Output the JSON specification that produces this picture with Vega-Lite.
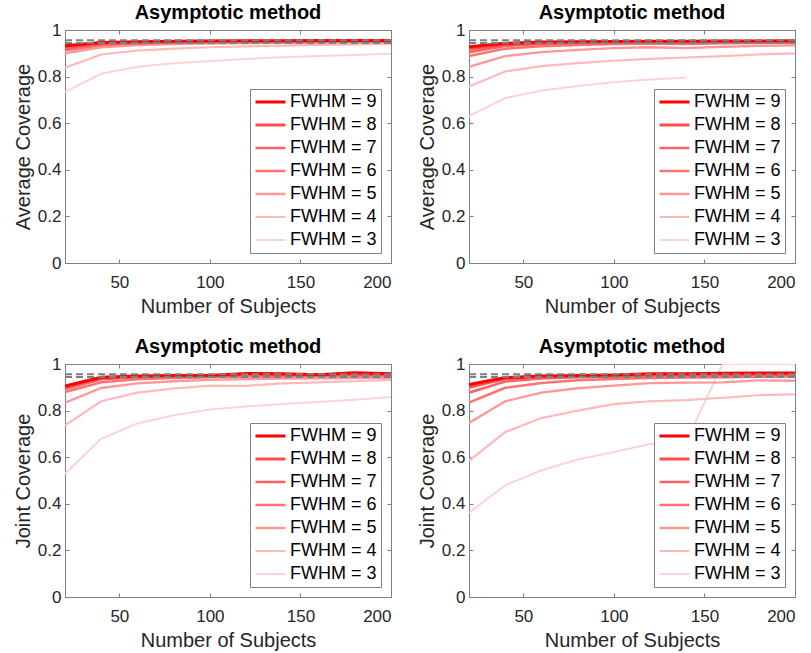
{
"$schema": "https://vega.github.io/schema/vega-lite/v6.json",
"background": "white",
"padding": {"left": 12, "top": 2, "right": 4, "bottom": 2},
"spacing": 19,
"resolve": {"scale": {"color": "independent", "strokeWidth": "independent"}, "legend": {"color": "independent", "strokeWidth": "independent"}},
"config": {
 "font": "Liberation Sans",
 "view": {"stroke": "#808080", "strokeWidth": 1},
 "axis": {"domainColor": "#808080", "tickColor": "#808080", "tickSize": -4, "labelFontSize": 17, "labelColor": "#262626", "labelFont": "Liberation Sans", "titleFont": "Liberation Sans", "titleFontSize": 20, "titleFontWeight": "normal", "titleColor": "#262626", "grid": false, "labelPadding": 8},
 "axisBottom": {"labelPadding": 15, "titlePadding": 6},
 "title": {"fontSize": 20, "fontWeight": "bold", "color": "#000000", "font": "Liberation Sans", "offset": -2},
 "legend": {"title": null, "orient": "bottom-right", "offset": 10, "fillColor": "white", "strokeColor": "#808080", "padding": 4, "symbolType": "stroke", "symbolSize": 900, "clipHeight": 18, "labelFontSize": 18, "labelColor": "#000000", "labelFont": "Liberation Sans", "labelOffset": 3, "rowPadding": 5, "cornerRadius": 0, "symbolStrokeWidth": 2}
},
"datasets": {
 "ref": [{"y": 0.956}, {"y": 0.944}],
 "TL": [
  {"f":"FWHM = 3","n":20,"c":0.735},{"f":"FWHM = 3","n":40,"c":0.812},{"f":"FWHM = 3","n":60,"c":0.842},{"f":"FWHM = 3","n":80,"c":0.857},{"f":"FWHM = 3","n":100,"c":0.867},{"f":"FWHM = 3","n":120,"c":0.876},{"f":"FWHM = 3","n":140,"c":0.883},{"f":"FWHM = 3","n":160,"c":0.888},{"f":"FWHM = 3","n":180,"c":0.893},{"f":"FWHM = 3","n":200,"c":0.898},
  {"f":"FWHM = 4","n":20,"c":0.838},{"f":"FWHM = 4","n":40,"c":0.895},{"f":"FWHM = 4","n":60,"c":0.912},{"f":"FWHM = 4","n":80,"c":0.920},{"f":"FWHM = 4","n":100,"c":0.926},{"f":"FWHM = 4","n":120,"c":0.930},{"f":"FWHM = 4","n":140,"c":0.933},{"f":"FWHM = 4","n":160,"c":0.936},{"f":"FWHM = 4","n":180,"c":0.938},{"f":"FWHM = 4","n":200,"c":0.940},
  {"f":"FWHM = 5","n":20,"c":0.900},{"f":"FWHM = 5","n":40,"c":0.926},{"f":"FWHM = 5","n":60,"c":0.935},{"f":"FWHM = 5","n":80,"c":0.940},{"f":"FWHM = 5","n":100,"c":0.942},{"f":"FWHM = 5","n":120,"c":0.944},{"f":"FWHM = 5","n":140,"c":0.945},{"f":"FWHM = 5","n":160,"c":0.946},{"f":"FWHM = 5","n":180,"c":0.947},{"f":"FWHM = 5","n":200,"c":0.948},
  {"f":"FWHM = 6","n":20,"c":0.913},{"f":"FWHM = 6","n":40,"c":0.935},{"f":"FWHM = 6","n":60,"c":0.942},{"f":"FWHM = 6","n":80,"c":0.945},{"f":"FWHM = 6","n":100,"c":0.947},{"f":"FWHM = 6","n":120,"c":0.948},{"f":"FWHM = 6","n":140,"c":0.949},{"f":"FWHM = 6","n":160,"c":0.950},{"f":"FWHM = 6","n":180,"c":0.950},{"f":"FWHM = 6","n":200,"c":0.951},
  {"f":"FWHM = 7","n":20,"c":0.920},{"f":"FWHM = 7","n":40,"c":0.940},{"f":"FWHM = 7","n":60,"c":0.946},{"f":"FWHM = 7","n":80,"c":0.948},{"f":"FWHM = 7","n":100,"c":0.950},{"f":"FWHM = 7","n":120,"c":0.951},{"f":"FWHM = 7","n":140,"c":0.951},{"f":"FWHM = 7","n":160,"c":0.952},{"f":"FWHM = 7","n":180,"c":0.952},{"f":"FWHM = 7","n":200,"c":0.953},
  {"f":"FWHM = 8","n":20,"c":0.926},{"f":"FWHM = 8","n":40,"c":0.943},{"f":"FWHM = 8","n":60,"c":0.948},{"f":"FWHM = 8","n":80,"c":0.950},{"f":"FWHM = 8","n":100,"c":0.952},{"f":"FWHM = 8","n":120,"c":0.952},{"f":"FWHM = 8","n":140,"c":0.953},{"f":"FWHM = 8","n":160,"c":0.953},{"f":"FWHM = 8","n":180,"c":0.954},{"f":"FWHM = 8","n":200,"c":0.954},
  {"f":"FWHM = 9","n":20,"c":0.932},{"f":"FWHM = 9","n":40,"c":0.946},{"f":"FWHM = 9","n":60,"c":0.950},{"f":"FWHM = 9","n":80,"c":0.952},{"f":"FWHM = 9","n":100,"c":0.953},{"f":"FWHM = 9","n":120,"c":0.954},{"f":"FWHM = 9","n":140,"c":0.954},{"f":"FWHM = 9","n":160,"c":0.955},{"f":"FWHM = 9","n":180,"c":0.955},{"f":"FWHM = 9","n":200,"c":0.955}
 ],
 "TR": [
  {"f":"FWHM = 3","n":20,"c":0.630},{"f":"FWHM = 3","n":40,"c":0.708},{"f":"FWHM = 3","n":60,"c":0.740},{"f":"FWHM = 3","n":80,"c":0.760},{"f":"FWHM = 3","n":100,"c":0.776},{"f":"FWHM = 3","n":120,"c":0.788},{"f":"FWHM = 3","n":140,"c":0.796},
  {"f":"FWHM = 4","n":20,"c":0.758},{"f":"FWHM = 4","n":40,"c":0.822},{"f":"FWHM = 4","n":60,"c":0.845},{"f":"FWHM = 4","n":80,"c":0.858},{"f":"FWHM = 4","n":100,"c":0.868},{"f":"FWHM = 4","n":120,"c":0.876},{"f":"FWHM = 4","n":140,"c":0.882},{"f":"FWHM = 4","n":160,"c":0.888},{"f":"FWHM = 4","n":180,"c":0.895},{"f":"FWHM = 4","n":200,"c":0.900},
  {"f":"FWHM = 5","n":20,"c":0.842},{"f":"FWHM = 5","n":40,"c":0.888},{"f":"FWHM = 5","n":60,"c":0.905},{"f":"FWHM = 5","n":80,"c":0.915},{"f":"FWHM = 5","n":100,"c":0.922},{"f":"FWHM = 5","n":120,"c":0.926},{"f":"FWHM = 5","n":140,"c":0.922},{"f":"FWHM = 5","n":160,"c":0.928},{"f":"FWHM = 5","n":180,"c":0.932},{"f":"FWHM = 5","n":200,"c":0.934},
  {"f":"FWHM = 6","n":20,"c":0.888},{"f":"FWHM = 6","n":40,"c":0.920},{"f":"FWHM = 6","n":60,"c":0.930},{"f":"FWHM = 6","n":80,"c":0.936},{"f":"FWHM = 6","n":100,"c":0.940},{"f":"FWHM = 6","n":120,"c":0.942},{"f":"FWHM = 6","n":140,"c":0.940},{"f":"FWHM = 6","n":160,"c":0.943},{"f":"FWHM = 6","n":180,"c":0.944},{"f":"FWHM = 6","n":200,"c":0.945},
  {"f":"FWHM = 7","n":20,"c":0.905},{"f":"FWHM = 7","n":40,"c":0.932},{"f":"FWHM = 7","n":60,"c":0.940},{"f":"FWHM = 7","n":80,"c":0.944},{"f":"FWHM = 7","n":100,"c":0.946},{"f":"FWHM = 7","n":120,"c":0.947},{"f":"FWHM = 7","n":140,"c":0.946},{"f":"FWHM = 7","n":160,"c":0.948},{"f":"FWHM = 7","n":180,"c":0.948},{"f":"FWHM = 7","n":200,"c":0.949},
  {"f":"FWHM = 8","n":20,"c":0.918},{"f":"FWHM = 8","n":40,"c":0.938},{"f":"FWHM = 8","n":60,"c":0.945},{"f":"FWHM = 8","n":80,"c":0.948},{"f":"FWHM = 8","n":100,"c":0.950},{"f":"FWHM = 8","n":120,"c":0.950},{"f":"FWHM = 8","n":140,"c":0.950},{"f":"FWHM = 8","n":160,"c":0.951},{"f":"FWHM = 8","n":180,"c":0.951},{"f":"FWHM = 8","n":200,"c":0.952},
  {"f":"FWHM = 9","n":20,"c":0.928},{"f":"FWHM = 9","n":40,"c":0.943},{"f":"FWHM = 9","n":60,"c":0.948},{"f":"FWHM = 9","n":80,"c":0.950},{"f":"FWHM = 9","n":100,"c":0.951},{"f":"FWHM = 9","n":120,"c":0.952},{"f":"FWHM = 9","n":140,"c":0.952},{"f":"FWHM = 9","n":160,"c":0.953},{"f":"FWHM = 9","n":180,"c":0.953},{"f":"FWHM = 9","n":200,"c":0.954}
 ],
 "BL": [
  {"f":"FWHM = 3","n":20,"c":0.529},{"f":"FWHM = 3","n":40,"c":0.679},{"f":"FWHM = 3","n":60,"c":0.745},{"f":"FWHM = 3","n":80,"c":0.780},{"f":"FWHM = 3","n":100,"c":0.805},{"f":"FWHM = 3","n":120,"c":0.818},{"f":"FWHM = 3","n":140,"c":0.828},{"f":"FWHM = 3","n":160,"c":0.837},{"f":"FWHM = 3","n":180,"c":0.847},{"f":"FWHM = 3","n":200,"c":0.858},
  {"f":"FWHM = 4","n":20,"c":0.737},{"f":"FWHM = 4","n":40,"c":0.840},{"f":"FWHM = 4","n":60,"c":0.877},{"f":"FWHM = 4","n":80,"c":0.895},{"f":"FWHM = 4","n":100,"c":0.907},{"f":"FWHM = 4","n":120,"c":0.906},{"f":"FWHM = 4","n":140,"c":0.917},{"f":"FWHM = 4","n":160,"c":0.921},{"f":"FWHM = 4","n":180,"c":0.926},{"f":"FWHM = 4","n":200,"c":0.932},
  {"f":"FWHM = 5","n":20,"c":0.834},{"f":"FWHM = 5","n":40,"c":0.897},{"f":"FWHM = 5","n":60,"c":0.917},{"f":"FWHM = 5","n":80,"c":0.926},{"f":"FWHM = 5","n":100,"c":0.932},{"f":"FWHM = 5","n":120,"c":0.935},{"f":"FWHM = 5","n":140,"c":0.937},{"f":"FWHM = 5","n":160,"c":0.938},{"f":"FWHM = 5","n":180,"c":0.940},{"f":"FWHM = 5","n":200,"c":0.941},
  {"f":"FWHM = 6","n":20,"c":0.880},{"f":"FWHM = 6","n":40,"c":0.922},{"f":"FWHM = 6","n":60,"c":0.935},{"f":"FWHM = 6","n":80,"c":0.940},{"f":"FWHM = 6","n":100,"c":0.943},{"f":"FWHM = 6","n":120,"c":0.946},{"f":"FWHM = 6","n":140,"c":0.946},{"f":"FWHM = 6","n":160,"c":0.948},{"f":"FWHM = 6","n":180,"c":0.949},{"f":"FWHM = 6","n":200,"c":0.950},
  {"f":"FWHM = 7","n":20,"c":0.893},{"f":"FWHM = 7","n":40,"c":0.935},{"f":"FWHM = 7","n":60,"c":0.943},{"f":"FWHM = 7","n":80,"c":0.947},{"f":"FWHM = 7","n":100,"c":0.948},{"f":"FWHM = 7","n":120,"c":0.953},{"f":"FWHM = 7","n":140,"c":0.951},{"f":"FWHM = 7","n":160,"c":0.952},{"f":"FWHM = 7","n":180,"c":0.955},{"f":"FWHM = 7","n":200,"c":0.954},
  {"f":"FWHM = 8","n":20,"c":0.900},{"f":"FWHM = 8","n":40,"c":0.940},{"f":"FWHM = 8","n":60,"c":0.946},{"f":"FWHM = 8","n":80,"c":0.949},{"f":"FWHM = 8","n":100,"c":0.950},{"f":"FWHM = 8","n":120,"c":0.956},{"f":"FWHM = 8","n":140,"c":0.955},{"f":"FWHM = 8","n":160,"c":0.953},{"f":"FWHM = 8","n":180,"c":0.958},{"f":"FWHM = 8","n":200,"c":0.956},
  {"f":"FWHM = 9","n":20,"c":0.905},{"f":"FWHM = 9","n":40,"c":0.943},{"f":"FWHM = 9","n":60,"c":0.949},{"f":"FWHM = 9","n":80,"c":0.951},{"f":"FWHM = 9","n":100,"c":0.951},{"f":"FWHM = 9","n":120,"c":0.959},{"f":"FWHM = 9","n":140,"c":0.958},{"f":"FWHM = 9","n":160,"c":0.954},{"f":"FWHM = 9","n":180,"c":0.962},{"f":"FWHM = 9","n":200,"c":0.958}
 ],
 "BR": [
  {"f":"FWHM = 3","n":20,"c":0.362},{"f":"FWHM = 3","n":40,"c":0.479},{"f":"FWHM = 3","n":60,"c":0.544},{"f":"FWHM = 3","n":80,"c":0.590},{"f":"FWHM = 3","n":100,"c":0.622},{"f":"FWHM = 3","n":120,"c":0.657},{"f":"FWHM = 3","n":140,"c":0.668},{"f":"FWHM = 3","n":160,"c":1.0},{"f":"FWHM = 3","n":180,"c":1.0},{"f":"FWHM = 3","n":200,"c":1.0},
  {"f":"FWHM = 4","n":20,"c":0.584},{"f":"FWHM = 4","n":40,"c":0.708},{"f":"FWHM = 4","n":60,"c":0.768},{"f":"FWHM = 4","n":80,"c":0.800},{"f":"FWHM = 4","n":100,"c":0.828},{"f":"FWHM = 4","n":120,"c":0.840},{"f":"FWHM = 4","n":140,"c":0.845},{"f":"FWHM = 4","n":160,"c":0.855},{"f":"FWHM = 4","n":180,"c":0.866},{"f":"FWHM = 4","n":200,"c":0.870},
  {"f":"FWHM = 5","n":20,"c":0.747},{"f":"FWHM = 5","n":40,"c":0.840},{"f":"FWHM = 5","n":60,"c":0.877},{"f":"FWHM = 5","n":80,"c":0.896},{"f":"FWHM = 5","n":100,"c":0.907},{"f":"FWHM = 5","n":120,"c":0.918},{"f":"FWHM = 5","n":140,"c":0.920},{"f":"FWHM = 5","n":160,"c":0.921},{"f":"FWHM = 5","n":180,"c":0.930},{"f":"FWHM = 5","n":200,"c":0.928},
  {"f":"FWHM = 6","n":20,"c":0.834},{"f":"FWHM = 6","n":40,"c":0.898},{"f":"FWHM = 6","n":60,"c":0.918},{"f":"FWHM = 6","n":80,"c":0.930},{"f":"FWHM = 6","n":100,"c":0.936},{"f":"FWHM = 6","n":120,"c":0.940},{"f":"FWHM = 6","n":140,"c":0.942},{"f":"FWHM = 6","n":160,"c":0.943},{"f":"FWHM = 6","n":180,"c":0.945},{"f":"FWHM = 6","n":200,"c":0.946},
  {"f":"FWHM = 7","n":20,"c":0.877},{"f":"FWHM = 7","n":40,"c":0.925},{"f":"FWHM = 7","n":60,"c":0.938},{"f":"FWHM = 7","n":80,"c":0.943},{"f":"FWHM = 7","n":100,"c":0.946},{"f":"FWHM = 7","n":120,"c":0.950},{"f":"FWHM = 7","n":140,"c":0.950},{"f":"FWHM = 7","n":160,"c":0.951},{"f":"FWHM = 7","n":180,"c":0.952},{"f":"FWHM = 7","n":200,"c":0.953},
  {"f":"FWHM = 8","n":20,"c":0.900},{"f":"FWHM = 8","n":40,"c":0.937},{"f":"FWHM = 8","n":60,"c":0.945},{"f":"FWHM = 8","n":80,"c":0.948},{"f":"FWHM = 8","n":100,"c":0.950},{"f":"FWHM = 8","n":120,"c":0.955},{"f":"FWHM = 8","n":140,"c":0.955},{"f":"FWHM = 8","n":160,"c":0.956},{"f":"FWHM = 8","n":180,"c":0.957},{"f":"FWHM = 8","n":200,"c":0.958},
  {"f":"FWHM = 9","n":20,"c":0.912},{"f":"FWHM = 9","n":40,"c":0.942},{"f":"FWHM = 9","n":60,"c":0.948},{"f":"FWHM = 9","n":80,"c":0.951},{"f":"FWHM = 9","n":100,"c":0.953},{"f":"FWHM = 9","n":120,"c":0.958},{"f":"FWHM = 9","n":140,"c":0.958},{"f":"FWHM = 9","n":160,"c":0.960},{"f":"FWHM = 9","n":180,"c":0.961},{"f":"FWHM = 9","n":200,"c":0.961}
 ]
},
"vconcat": [
 {"spacing": 23, "resolve": {"scale": {"color": "independent", "strokeWidth": "independent"}, "legend": {"color": "independent", "strokeWidth": "independent"}}, "hconcat": [
  {"width": 326, "height": 233, "title": "Asymptotic method",
   "layer": [
    {"data": {"name": "TL"}, "mark": {"type": "line", "clip": true},
     "encoding": {
      "x": {"field": "n", "type": "quantitative", "scale": {"domain": [20, 200], "nice": false, "zero": false}, "axis": {"values": [50, 100, 150, 200], "title": "Number of Subjects"}},
      "y": {"field": "c", "type": "quantitative", "scale": {"domain": [0, 1], "nice": false}, "axis": {"values": [0, 0.2, 0.4, 0.6, 0.8, 1], "format": "~g", "title": "Average Coverage"}},
      "color": {"field": "f", "type": "nominal", "scale": {"domain": ["FWHM = 9","FWHM = 8","FWHM = 7","FWHM = 6","FWHM = 5","FWHM = 4","FWHM = 3"], "range": ["#ff0000","#ff4c4c","#ff6262","#ff7272","#ff9797","#ffb9b9","#ffd3d3"]}},
      "strokeWidth": {"field": "f", "type": "nominal", "scale": {"domain": ["FWHM = 9","FWHM = 8","FWHM = 7","FWHM = 6","FWHM = 5","FWHM = 4","FWHM = 3"], "range": [3, 2, 2, 2, 2, 2, 2]}}
     }},
    {"data": {"name": "ref"}, "mark": {"type": "rule", "strokeDash": [7, 4], "color": "#7f7f7f", "strokeWidth": 2},
     "encoding": {
      "x": {"datum": 20, "type": "quantitative", "axis": {"orient": "top", "labels": false, "title": null, "values": [50, 100, 150, 200]}},
      "x2": {"datum": 200},
      "y": {"field": "y", "type": "quantitative", "axis": {"orient": "right", "labels": false, "title": null, "values": [0, 0.2, 0.4, 0.6, 0.8, 1]}}
     }}
   ],
   "resolve": {"axis": {"x": "independent", "y": "independent"}}},
  {"width": 326, "height": 233, "title": "Asymptotic method",
   "layer": [
    {"data": {"name": "TR"}, "mark": {"type": "line", "clip": true},
     "encoding": {
      "x": {"field": "n", "type": "quantitative", "scale": {"domain": [20, 200], "nice": false, "zero": false}, "axis": {"values": [50, 100, 150, 200], "title": "Number of Subjects"}},
      "y": {"field": "c", "type": "quantitative", "scale": {"domain": [0, 1], "nice": false}, "axis": {"values": [0, 0.2, 0.4, 0.6, 0.8, 1], "format": "~g", "title": "Average Coverage"}},
      "color": {"field": "f", "type": "nominal", "scale": {"domain": ["FWHM = 9","FWHM = 8","FWHM = 7","FWHM = 6","FWHM = 5","FWHM = 4","FWHM = 3"], "range": ["#ff0000","#ff4c4c","#ff6262","#ff7272","#ff9797","#ffb9b9","#ffd3d3"]}},
      "strokeWidth": {"field": "f", "type": "nominal", "scale": {"domain": ["FWHM = 9","FWHM = 8","FWHM = 7","FWHM = 6","FWHM = 5","FWHM = 4","FWHM = 3"], "range": [3, 2, 2, 2, 2, 2, 2]}}
     }},
    {"data": {"name": "ref"}, "mark": {"type": "rule", "strokeDash": [7, 4], "color": "#7f7f7f", "strokeWidth": 2},
     "encoding": {
      "x": {"datum": 20, "type": "quantitative", "axis": {"orient": "top", "labels": false, "title": null, "values": [50, 100, 150, 200]}},
      "x2": {"datum": 200},
      "y": {"field": "y", "type": "quantitative", "axis": {"orient": "right", "labels": false, "title": null, "values": [0, 0.2, 0.4, 0.6, 0.8, 1]}}
     }}
   ],
   "resolve": {"axis": {"x": "independent", "y": "independent"}}}
 ]},
 {"spacing": 23, "resolve": {"scale": {"color": "independent", "strokeWidth": "independent"}, "legend": {"color": "independent", "strokeWidth": "independent"}}, "hconcat": [
  {"width": 326, "height": 233, "title": "Asymptotic method",
   "layer": [
    {"data": {"name": "BL"}, "mark": {"type": "line", "clip": true},
     "encoding": {
      "x": {"field": "n", "type": "quantitative", "scale": {"domain": [20, 200], "nice": false, "zero": false}, "axis": {"values": [50, 100, 150, 200], "title": "Number of Subjects"}},
      "y": {"field": "c", "type": "quantitative", "scale": {"domain": [0, 1], "nice": false}, "axis": {"values": [0, 0.2, 0.4, 0.6, 0.8, 1], "format": "~g", "title": "Joint Coverage"}},
      "color": {"field": "f", "type": "nominal", "scale": {"domain": ["FWHM = 9","FWHM = 8","FWHM = 7","FWHM = 6","FWHM = 5","FWHM = 4","FWHM = 3"], "range": ["#ff0000","#ff4c4c","#ff6262","#ff7272","#ff9797","#ffb9b9","#ffd3d3"]}},
      "strokeWidth": {"field": "f", "type": "nominal", "scale": {"domain": ["FWHM = 9","FWHM = 8","FWHM = 7","FWHM = 6","FWHM = 5","FWHM = 4","FWHM = 3"], "range": [3, 2, 2, 2, 2, 2, 2]}}
     }},
    {"data": {"name": "ref"}, "mark": {"type": "rule", "strokeDash": [7, 4], "color": "#7f7f7f", "strokeWidth": 2},
     "encoding": {
      "x": {"datum": 20, "type": "quantitative", "axis": {"orient": "top", "labels": false, "title": null, "values": [50, 100, 150, 200]}},
      "x2": {"datum": 200},
      "y": {"field": "y", "type": "quantitative", "axis": {"orient": "right", "labels": false, "title": null, "values": [0, 0.2, 0.4, 0.6, 0.8, 1]}}
     }}
   ],
   "resolve": {"axis": {"x": "independent", "y": "independent"}}},
  {"width": 326, "height": 233, "title": "Asymptotic method",
   "layer": [
    {"data": {"name": "BR"}, "mark": {"type": "line", "clip": true},
     "encoding": {
      "x": {"field": "n", "type": "quantitative", "scale": {"domain": [20, 200], "nice": false, "zero": false}, "axis": {"values": [50, 100, 150, 200], "title": "Number of Subjects"}},
      "y": {"field": "c", "type": "quantitative", "scale": {"domain": [0, 1], "nice": false}, "axis": {"values": [0, 0.2, 0.4, 0.6, 0.8, 1], "format": "~g", "title": "Joint Coverage"}},
      "color": {"field": "f", "type": "nominal", "scale": {"domain": ["FWHM = 9","FWHM = 8","FWHM = 7","FWHM = 6","FWHM = 5","FWHM = 4","FWHM = 3"], "range": ["#ff0000","#ff4c4c","#ff6262","#ff7272","#ff9797","#ffb9b9","#ffd3d3"]}},
      "strokeWidth": {"field": "f", "type": "nominal", "scale": {"domain": ["FWHM = 9","FWHM = 8","FWHM = 7","FWHM = 6","FWHM = 5","FWHM = 4","FWHM = 3"], "range": [3, 2, 2, 2, 2, 2, 2]}}
     }},
    {"data": {"name": "ref"}, "mark": {"type": "rule", "strokeDash": [7, 4], "color": "#7f7f7f", "strokeWidth": 2},
     "encoding": {
      "x": {"datum": 20, "type": "quantitative", "axis": {"orient": "top", "labels": false, "title": null, "values": [50, 100, 150, 200]}},
      "x2": {"datum": 200},
      "y": {"field": "y", "type": "quantitative", "axis": {"orient": "right", "labels": false, "title": null, "values": [0, 0.2, 0.4, 0.6, 0.8, 1]}}
     }}
   ],
   "resolve": {"axis": {"x": "independent", "y": "independent"}}}
 ]}
]
}
